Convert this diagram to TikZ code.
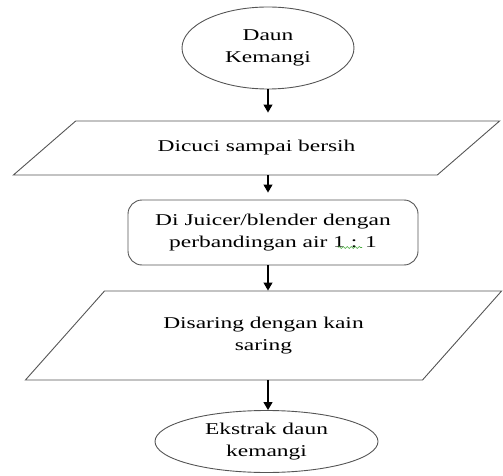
\documentclass[tikz,border=0pt]{standalone}
\usepackage{fontspec}
\setmainfont{Liberation Serif}[FakeStretch=1.42]
\usetikzlibrary{arrows.meta,positioning,calc,shapes.geometric,decorations.pathmorphing}
\definecolor{edgegray}{RGB}{85,85,85}
\definecolor{spellgreen}{RGB}{70,170,60}

\begin{document}
\begin{tikzpicture}[
    x=1pt, y=-1pt,
    every node/.style={font=\fontsize{16.5}{22}\selectfont, align=center, inner sep=0pt},
    terminal/.style={draw=edgegray, line width=0.9pt, ellipse},
    datain/.style={draw=edgegray, line width=0.9pt, trapezium, trapezium stretches=true},
    process/.style={draw=edgegray, line width=0.9pt, rounded corners=14pt, minimum width=290pt, minimum height=65pt},
    flow/.style={-{Triangle[width=9pt,length=8pt]}, line width=1.1pt},
    >=Stealth
  ]
    \useasboundingbox (0,0) rectangle (503,476);
    \node[terminal, minimum width=172pt, minimum height=82pt] (daun) at (268,48) {Daun\\Kemangi};
    \node[datain, trapezium left angle=23.7, trapezium right angle=156.3, minimum width=487pt, minimum height=54pt] (cuci) at (256.5,148) {Dicuci sampai bersih};
    \node[process] (juicer) at (273,232.5) {Di Juicer/blender dengan\\perbandingan air 1 : 1};
    \node[datain, trapezium left angle=36.6, trapezium right angle=143.4, minimum width=477pt, minimum height=89pt] (saring) at (263.5,335.5) {Disaring dengan kain\\saring};
    \node[terminal, minimum width=223pt, minimum height=62pt] (ekstrak) at (266.5,441.5) {Ekstrak daun\\kemangi};
    % connectors
    \draw[flow, shorten >=8pt] (daun.south) -- (daun.south |- cuci.north);
    \draw[flow, shorten >=7pt] (daun.south |- cuci.south) -- (daun.south |- juicer.north);
    \draw[flow] (daun.south |- juicer.south) -- (daun.south |- saring.north);
    \draw[flow] (daun.south |- saring.south) -- (daun.south |- ekstrak.north);
    % spell-check mark under "1 :"
    \draw[spellgreen, line width=0.6pt, decorate, decoration={snake, segment length=4pt, amplitude=1pt}]
      ($(juicer.south)+(65,-18)$) -- ($(juicer.south)+(89,-18)$);
  \end{tikzpicture}
\end{document}
